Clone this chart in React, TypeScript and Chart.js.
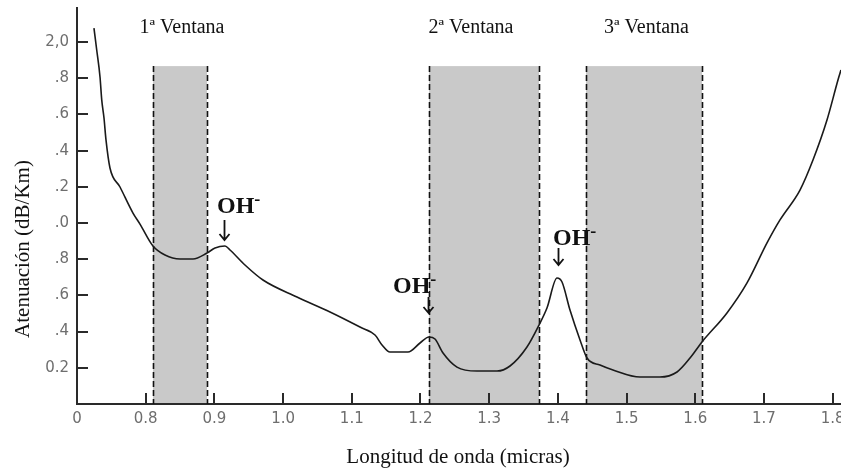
import React, { useEffect, useRef } from "react";
import { Chart, registerables } from "chart.js";

Chart.register(...registerables);

// Attenuation curve of a silica optical fibre
const wavelength = [
  0.7247, 0.7287, 0.7335, 0.736, 0.7393, 0.7422, 0.748, 0.7626, 0.7815, 0.7917,
  0.8106, 0.8281, 0.85, 0.8689, 0.8892, 0.9009, 0.9154, 0.9227, 0.9445, 0.9707,
  1.0202, 1.0683, 1.1119, 1.1338, 1.144, 1.1556, 1.1818, 1.1993, 1.2124, 1.2211,
  1.2328, 1.2531, 1.2822, 1.3114, 1.3303, 1.355, 1.3725, 1.3841, 1.3987, 1.406,
  1.4176, 1.4322, 1.4424, 1.4613, 1.4802, 1.5195, 1.5486, 1.5734, 1.5923, 1.6098,
  1.6461, 1.6753, 1.7044, 1.7233, 1.7524, 1.7713, 1.7917, 1.8077, 1.8121,
];
const attenuation = [
  2.077, 1.956, 1.807, 1.68, 1.58, 1.459, 1.304, 1.199, 1.055, 0.994,
  0.873, 0.823, 0.801, 0.801, 0.834, 0.862, 0.873, 0.851, 0.768, 0.685,
  0.591, 0.508, 0.425, 0.381, 0.326, 0.287, 0.287, 0.337, 0.37, 0.359,
  0.282, 0.204, 0.182, 0.182, 0.21, 0.315, 0.436, 0.53, 0.696, 0.674,
  0.519, 0.354, 0.254, 0.215, 0.188, 0.149, 0.149, 0.177, 0.254, 0.343,
  0.503, 0.669, 0.89, 1.017, 1.182, 1.348, 1.569, 1.79, 1.845,
];

const xTickValues = [0.7, 0.8, 0.9, 1.0, 1.1, 1.2, 1.3, 1.4, 1.5, 1.6, 1.7, 1.8];
const xTickLabels = ["0", "0.8", "0.9", "1.0", "1.1", "1.2", "1.3", "1.4", "1.5", "1.6", "1.7", "1.8"];
const yTickValues = [0.2, 0.4, 0.6, 0.8, 1.0, 1.2, 1.4, 1.6, 1.8, 2.0];
const yTickLabels = ["0.2", ".4", ".6", ".8", ".0", ".2", ".4", ".6", ".8", "2,0"];

const windowNames = ["1ª Ventana", "2ª Ventana", "3ª Ventana"];
const windowStart = [0.8106, 1.2124, 1.4409];
const windowEnd = [0.8892, 1.3725, 1.6098];
const windowTop = 1.867;

const ohLabel = "OH";
const ohSup = "-";

// annotation placement (data units)
const windowLabelX = [0.8528, 1.2735, 1.529];
const windowLabelY = 2.05;
const ohTextX = [0.9038, 1.16, 1.3929];
const ohTextY = [1.055, 0.613, 0.878];
const ohArrowX = [0.914, 1.2109, 1.4001];
const ohArrowTop = [1.017, 0.591, 0.862];
const ohArrowBottom = [0.906, 0.503, 0.768];

const xTitle = "Longitud de onda (micras)";
const yTitle = "Atenuación (dB/Km)";

const decorPlugin = {
  id: "decor",
  beforeDraw(chart: any) {
    const ctx = chart.ctx;
    ctx.save();
    ctx.fillStyle = "#ffffff";
    ctx.fillRect(0, 0, chart.width, chart.height);
    ctx.restore();
  },
  beforeDatasetsDraw(chart: any) {
    const ctx = chart.ctx;
    const xs = chart.scales.x;
    const ys = chart.scales.y;
    const bottom = chart.chartArea.bottom;
    const top = ys.getPixelForValue(windowTop);
    ctx.save();
    for (let i = 0; i < windowStart.length; i++) {
      const x0 = xs.getPixelForValue(windowStart[i]);
      const x1 = xs.getPixelForValue(windowEnd[i]);
      ctx.fillStyle = "#c9c9c9";
      ctx.fillRect(x0, top, x1 - x0, bottom - top - 1);
    }
    ctx.strokeStyle = "#111111";
    ctx.lineWidth = 1.6;
    ctx.setLineDash([6, 3]);
    for (let i = 0; i < windowStart.length; i++) {
      for (const v of [windowStart[i], windowEnd[i]]) {
        const x = Math.round(xs.getPixelForValue(v)) + 0.5;
        ctx.beginPath();
        ctx.moveTo(x, top);
        ctx.lineTo(x, bottom);
        ctx.stroke();
      }
    }
    ctx.restore();
  },
  afterDraw(chart: any) {
    const ctx = chart.ctx;
    const xs = chart.scales.x;
    const ys = chart.scales.y;
    const area = chart.chartArea;
    ctx.save();
    // inside tick marks
    ctx.strokeStyle = "#2a2a2a";
    ctx.lineWidth = 2;
    ctx.setLineDash([]);
    for (let i = 1; i < xTickValues.length; i++) {
      const x = Math.round(xs.getPixelForValue(xTickValues[i]));
      ctx.beginPath();
      ctx.moveTo(x, area.bottom);
      ctx.lineTo(x, area.bottom - 11);
      ctx.stroke();
    }
    for (let i = 0; i < yTickValues.length; i++) {
      const y = Math.round(ys.getPixelForValue(yTickValues[i]));
      ctx.beginPath();
      ctx.moveTo(area.left, y);
      ctx.lineTo(area.left + 11, y);
      ctx.stroke();
    }

    // window labels
    ctx.fillStyle = "#111111";
    ctx.font = '20px "Liberation Serif"';
    ctx.textAlign = "center";
    ctx.textBaseline = "alphabetic";
    for (let i = 0; i < windowNames.length; i++) {
      ctx.fillText(windowNames[i], xs.getPixelForValue(windowLabelX[i]), ys.getPixelForValue(windowLabelY));
    }

    // OH- labels with arrows
    for (let i = 0; i < ohTextX.length; i++) {
      const tx = xs.getPixelForValue(ohTextX[i]);
      const ty = ys.getPixelForValue(ohTextY[i]);
      ctx.textAlign = "left";
      ctx.font = 'bold 24px "Liberation Serif"';
      ctx.fillText(ohLabel, tx, ty);
      const w = ctx.measureText(ohLabel).width;
      ctx.font = 'bold 18px "Liberation Serif"';
      ctx.fillText(ohSup, tx + w, ty - 8);

      const ax = Math.round(xs.getPixelForValue(ohArrowX[i])) + 0.5;
      const at = ys.getPixelForValue(ohArrowTop[i]);
      const ab = ys.getPixelForValue(ohArrowBottom[i]);
      ctx.strokeStyle = "#111111";
      ctx.lineWidth = 1.8;
      ctx.beginPath();
      ctx.moveTo(ax, at);
      ctx.lineTo(ax, ab);
      ctx.moveTo(ax - 5, ab - 6);
      ctx.lineTo(ax, ab);
      ctx.lineTo(ax + 5, ab - 6);
      ctx.stroke();
    }

    // axis titles
    ctx.font = '21px "Liberation Serif"';
    ctx.textAlign = "center";
    ctx.fillStyle = "#111111";
    ctx.fillText(xTitle, 458, 463);
    ctx.translate(29, 249);
    ctx.rotate(-Math.PI / 2);
    ctx.textBaseline = "alphabetic";
    ctx.fillText(yTitle, 0, 0);
    ctx.restore();
  },
};

export default function App() {
  const canvasRef = useRef<HTMLCanvasElement | null>(null);

  useEffect(() => {
    const canvas = canvasRef.current;
    if (!canvas) return;
    const chart = new Chart(canvas, {
      type: "line",
      data: {
        datasets: [
          {
            data: wavelength.map((x, i) => ({ x, y: attenuation[i] })),
            borderColor: "#1a1a1a",
            borderWidth: 1.6,
            pointRadius: 0,
            fill: false,
            cubicInterpolationMode: "monotone",
          },
        ],
      },
      options: {
        responsive: false,
        animation: false,
        devicePixelRatio: 1,
        layout: { padding: { top: 8, left: 0, right: 0, bottom: 0 } },
        plugins: { legend: { display: false }, tooltip: { enabled: false } },
        scales: {
          x: {
            type: "linear",
            min: 0.7,
            max: 1.8121,
            afterBuildTicks: (s: any) => {
              s.ticks = xTickValues.map((v) => ({ value: v }));
            },
            afterFit: (s: any) => {
              s.height = 66;
              s.paddingLeft = 0;
              s.paddingRight = 0;
              s.paddingTop = 0;
              s.paddingBottom = 0;
            },
            grid: { display: false, drawTicks: false },
            border: { display: true, color: "#2a2a2a", width: 2 },
            ticks: {
              autoSkip: false,
              maxRotation: 0,
              padding: 6,
              color: "#6e6e6e",
              font: { family: '"DejaVu Sans"', size: 15 },
              callback: (_v: any, i: number) => xTickLabels[i],
            },
          },
          y: {
            type: "linear",
            min: 0,
            max: 2.188,
            afterBuildTicks: (s: any) => {
              s.ticks = yTickValues.map((v) => ({ value: v }));
            },
            afterFit: (s: any) => {
              s.width = 77;
              s.paddingLeft = 0;
              s.paddingRight = 0;
              s.paddingTop = 0;
              s.paddingBottom = 0;
            },
            grid: { display: false, drawTicks: false },
            border: { display: true, color: "#2a2a2a", width: 2 },
            ticks: {
              autoSkip: false,
              padding: 8,
              color: "#6e6e6e",
              font: { family: '"DejaVu Sans"', size: 15 },
              callback: (_v: any, i: number) => yTickLabels[i],
            },
          },
        },
      } as any,
      plugins: [decorPlugin],
    });
    return () => chart.destroy();
  }, []);

  return (
    <div style={{ position: "fixed", left: 0, top: 0, width: 841, height: 470, background: "#fff" }}>
      <canvas ref={canvasRef} width={841} height={470} style={{ width: 841, height: 470, display: "block" }} />
    </div>
  );
}
